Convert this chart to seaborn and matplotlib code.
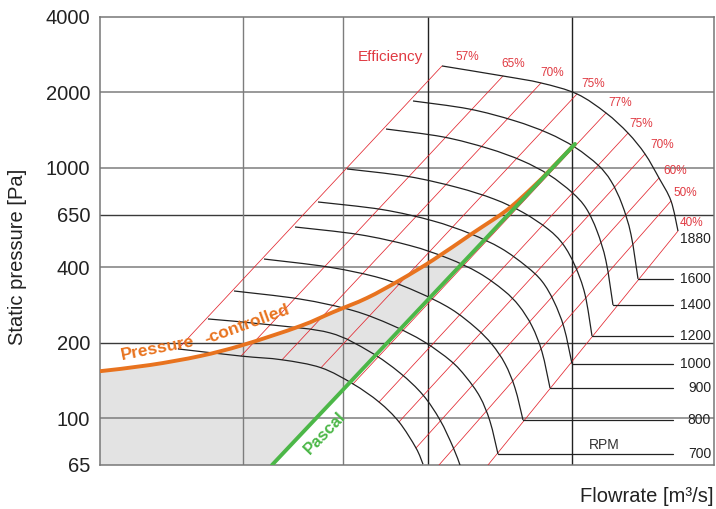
import numpy as np
import pandas as pd
import seaborn as sns
import matplotlib.pyplot as plt
from matplotlib.path import Path
from matplotlib.patches import PathPatch
from matplotlib.ticker import NullLocator

# ---------------- data ----------------
# flow in arbitrary units (axis has no numbers), pressure in Pa
yticks = [65, 100, 200, 400, 650, 1000, 2000, 4000]
xgrid = [1.43, 2.43, 3.28, 4.72]

# fan curves, outermost (1880 rpm) to innermost
rpm_names = ["1880", "1600", "1400", "1200", "1000", "900", "800", "700", "c9", "c10"]
rpm_q = [
    [3.42, 4.03, 4.41, 4.77, 5.06, 5.28, 5.45, 5.59, 5.71, 5.78],
    [3.13, 3.69, 4.14, 4.48, 4.75, 4.98, 5.11, 5.22, 5.31, 5.38],
    [2.86, 3.43, 3.88, 4.22, 4.49, 4.72, 4.86, 4.97, 5.06, 5.13],
    [2.47, 3.08, 3.57, 3.94, 4.23, 4.48, 4.63, 4.75, 4.85, 4.92],
    [2.18, 2.82, 3.32, 3.70, 4.01, 4.26, 4.42, 4.54, 4.64, 4.72],
    [1.95, 2.59, 3.10, 3.48, 3.79, 4.04, 4.19, 4.32, 4.42, 4.50],
    [1.64, 2.29, 2.81, 3.19, 3.51, 3.76, 3.92, 4.05, 4.15, 4.23],
    [1.34, 2.00, 2.53, 2.92, 3.24, 3.51, 3.66, 3.80, 3.90, 3.98],
    [1.08, 1.70, 2.30, 2.70, 3.00, 3.23, 3.40, 3.53, 3.60],
    [0.78, 1.41, 1.82, 2.21, 2.53, 2.79, 2.99, 3.16, 3.23],
]
rpm_p = [
    [2550, 2325, 2181, 1971, 1655, 1376, 1135, 910, 737, 559],
    [1848, 1717, 1543, 1376, 1207, 1025, 885, 715, 541, 360],
    [1428, 1328, 1195, 1067, 937, 797, 690, 559, 424, 283],
    [989, 923, 835, 750, 663, 569, 495, 406, 312, 213],
    [730, 681, 615, 546, 477, 405, 352, 292, 230, 165],
    [580, 541, 489, 435, 380, 323, 281, 233, 184, 132],
    [432, 401, 362, 317, 273, 229, 197, 165, 132, 98.3],
    [322, 299, 269, 235, 202, 169, 146, 121.5, 97.1, 71.9],
    [249, 236, 219, 184, 151.5, 123.7, 98.3, 76.7, 65],
    [189, 177, 171, 159, 137, 116, 96.6, 76.0, 65.5],
]

# efficiency lines (top end on the 1880 curve, bottom end)
eff_labels = ["57%", "65%", "70%", "75%", "77%", "75%", "70%", "60%", "50%", "40%"]
eff_top_q = [3.42, 4.03, 4.41, 4.77, 5.06, 5.28, 5.45, 5.59, 5.71, 5.78]
eff_top_p = [2550, 2325, 2181, 1971, 1655, 1376, 1135, 910, 737, 559]
eff_bot_q = [0.78, 1.41, 1.82, 2.21, 2.53, 2.79, 2.99, 3.16, 3.39, 3.88]
eff_bot_p = [189, 177, 171, 159, 137, 116, 96.6, 76.0, 65, 65]
eff_lab_q = [3.67, 4.13, 4.52, 4.93, 5.20, 5.41, 5.62, 5.75, 5.85, 5.91]
eff_lab_p = [2770, 2600, 2390, 2160, 1814, 1495, 1233, 971, 793, 602]

# pressure-controlled curve and Pascal line
pc_q = [0, 0.5, 1.0, 1.43, 2.0, 2.33, 2.67, 3.0, 3.33, 3.73, 4.07, 4.33, 4.50, 4.75]
pc_p = [154, 163, 177, 196, 233, 265, 302, 356, 428, 549, 678, 838, 980, 1245]
pascal_q = [1.72, 4.75]
pascal_p = [65, 1245]

RED = "#e2262f"
RED_TXT = "#e03a42"
ORANGE = "#e8731f"
GREEN = "#4cb748"


def smooth_path(qs, ps):
    # smooth curve through the read points (drawn in x / log-p space)
    pts = np.column_stack([qs, np.log10(ps)])
    verts, codes = [pts[0]], [Path.MOVETO]
    n = len(pts)
    for i in range(n - 1):
        p0 = pts[max(i - 1, 0)]
        p1, p2 = pts[i], pts[i + 1]
        p3 = pts[min(i + 2, n - 1)]
        verts += [p1 + (p2 - p0) / 6, p2 - (p3 - p1) / 6, p2]
        codes += [Path.CURVE4] * 3
    verts = np.array(verts)
    verts[:, 1] = 10 ** verts[:, 1]
    return Path(verts, codes)


sns.set_theme(style="white")
plt.rcParams["font.family"] = ["Liberation Sans", "DejaVu Sans"]

fig = plt.figure(figsize=(7.16, 5.09), dpi=100)
ax = fig.add_axes([100 / 716, 44 / 509, 614 / 716, 448 / 509])
ax.set_yscale("log")
ax.set_xlim(0, 6.14)
ax.set_ylim(65, 4000)

# grey operating area
fill_q = [0] + pc_q + pascal_q[::-1]
fill_p = [65] + pc_p + pascal_p[::-1]
ax.fill(fill_q, fill_p, color="#e3e3e3", lw=0, zorder=1)

# grid
for p in [2000, 1000, 400, 100]:
    ax.axhline(p, color="#7d7d7d", lw=1.1, zorder=2)
for p in [650, 200]:
    ax.axhline(p, color="#3a3a3a", lw=1.0, zorder=2)
for i, q in enumerate(xgrid):
    ax.axvline(q, color="#7d7d7d" if i < 2 else "#222222", lw=1.0, zorder=2)

# efficiency lines
eff = pd.DataFrame({
    "q": eff_top_q + eff_bot_q,
    "p": eff_top_p + eff_bot_p,
    "line": list(range(10)) * 2,
})
sns.lineplot(data=eff, x="q", y="p", units="line", estimator=None, sort=False,
             color=RED, lw=0.55, ax=ax, zorder=3)
for lab, q, p in zip(eff_labels, eff_lab_q, eff_lab_p):
    ax.text(q, p, lab, color=RED_TXT, fontsize=8.5, ha="center", va="center")
ax.text(2.90, 2770, "Efficiency", color=RED_TXT, fontsize=11, ha="center", va="center")

# fan curves
for qs, ps in zip(rpm_q, rpm_p):
    ax.add_patch(PathPatch(smooth_path(qs, ps), fill=False, ec="#222222",
                           lw=0.9, zorder=4))

# leaders and rpm labels
for name, qs, ps in zip(rpm_names[1:8], rpm_q[1:8], rpm_p[1:8]):
    ax.plot([qs[-1], 5.73], [ps[-1], ps[-1]], color="#222222", lw=0.9, zorder=4)
    ax.text(6.11, ps[-1], name, fontsize=10, color="#222222", ha="right", va="center")
ax.text(6.11, 519, "1880", fontsize=10, color="#222222", ha="right", va="center")
ax.text(5.04, 78, "RPM", fontsize=10, color="#333333", ha="center", va="center")

# control curves
ax.add_patch(PathPatch(smooth_path(pc_q, pc_p), fill=False, ec=ORANGE, lw=2.8,
                       capstyle="butt", zorder=5))
sns.lineplot(x=pascal_q, y=pascal_p, color=GREEN, lw=2.8, sort=False, ax=ax, zorder=6)
ax.text(0.58, 190, "Pressure", color=ORANGE, fontsize=12.5, fontweight="bold",
        rotation=11, ha="center", va="center", zorder=7)
ax.text(1.47, 236, "-controlled", color=ORANGE, fontsize=12.5, fontweight="bold",
        rotation=20, ha="center", va="center", zorder=7)
ax.text(2.25, 87, "Pascal", color=GREEN, fontsize=12, fontweight="bold",
        rotation=46, ha="center", va="center", zorder=7)

# axes
ax.set_xlim(0, 6.14)
ax.set_ylim(65, 4000)
ax.set_yticks(yticks)
ax.set_yticklabels([str(t) for t in yticks])
ax.yaxis.set_minor_locator(NullLocator())
ax.set_xticks([])
ax.tick_params(axis="y", length=0, pad=7, labelsize=14.5, labelcolor="#222222")
for s in ax.spines.values():
    s.set_color("#777777")
    s.set_linewidth(1.1)

ax.set_ylabel("Static pressure [Pa]", fontsize=14.5, color="#222222")
ax.yaxis.label.set_va("center")
ax.yaxis.set_label_coords(-0.135, 0.464)
ax.set_xlabel("Flowrate [m³/s]", fontsize=14.5, color="#222222", ha="right", va="center")
ax.xaxis.set_label_coords(1.0, -0.071)

fig.savefig("out.png", dpi=100)
